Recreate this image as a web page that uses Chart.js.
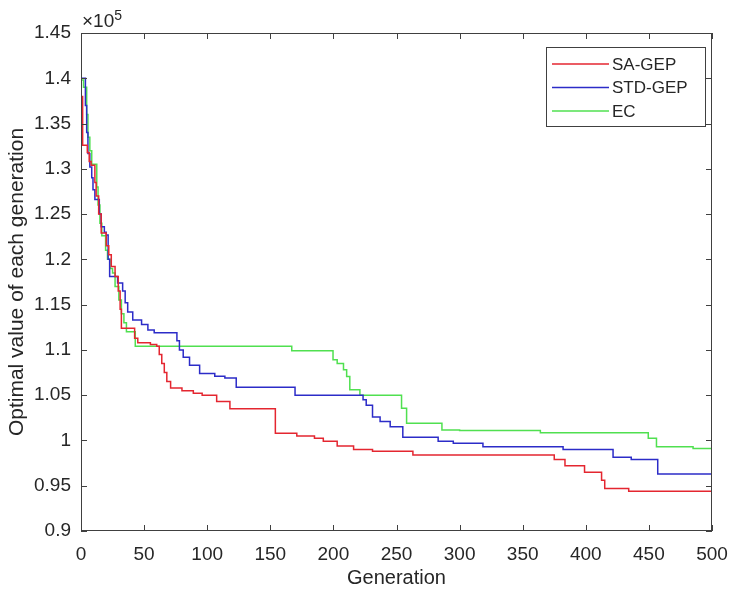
<!DOCTYPE html>
<html>
<head>
<meta charset="utf-8">
<script src="https://cdn.jsdelivr.net/npm/chart.js@4.4.0/dist/chart.umd.min.js"></script>
<style>
  html, body { margin: 0; padding: 0; background: #fff; }
  canvas { display: block; }
</style>
</head>
<body>
<canvas id="grafico" width="729" height="592"></canvas>
<script>
// data (values in units of 1e5), each point = generation where the best value changes
const seriesNames = ['SA-GEP', 'STD-GEP', 'EC'];

const saGepGen = [0, 1.3, 5, 6.5, 8, 11, 12, 14, 16, 20, 22, 24, 27, 29.5, 31, 32, 42.5, 45, 55, 60, 62, 64, 66, 68, 71, 80, 89, 96, 107.5, 118, 154, 171, 185, 192, 203, 216, 231, 263, 375, 383.5, 399, 412.5, 415, 434, 500];
const saGepVal = [1.38, 1.326, 1.318, 1.308, 1.304, 1.285, 1.27, 1.25, 1.229, 1.215, 1.205, 1.192, 1.181, 1.165, 1.145, 1.124, 1.113, 1.108, 1.106, 1.104, 1.095, 1.085, 1.075, 1.065, 1.058, 1.055, 1.052, 1.05, 1.043, 1.035, 1.008, 1.005, 1.0025, 0.999, 0.994, 0.99, 0.988, 0.984, 0.979, 0.972, 0.965, 0.956, 0.947, 0.944, 0.944];

const stdGepGen = [0, 3.5, 4.5, 5.5, 7, 8.5, 9.5, 11, 14.5, 16, 18.5, 20, 21.5, 22.7, 29, 33, 35, 37, 41, 48, 53, 58, 76, 78, 81, 86, 94, 106, 114, 123, 169.6, 223.5, 226, 231, 237, 245, 255, 283, 295, 318.5, 382, 421.6, 436, 457, 500];
const stdGepVal = [1.40, 1.37, 1.34, 1.317, 1.302, 1.29, 1.277, 1.266, 1.25, 1.236, 1.23, 1.227, 1.20, 1.181, 1.174, 1.165, 1.152, 1.142, 1.133, 1.128, 1.122, 1.119, 1.11, 1.10, 1.092, 1.083, 1.074, 1.071, 1.069, 1.0587, 1.05, 1.045, 1.039, 1.026, 1.021, 1.015, 1.0035, 0.999, 0.997, 0.993, 0.99, 0.9815, 0.979, 0.963, 0.963];

const ecGen = [0, 2, 4.5, 5.5, 7, 8.5, 12.5, 13.5, 15, 16.5, 19.5, 21, 23, 25, 27, 30, 32, 34, 36, 43, 167, 199.7, 203, 208, 210.5, 213, 221, 254, 258, 286, 300, 364, 449.5, 456, 485, 500];
const ecVal = [1.398, 1.39, 1.36, 1.335, 1.32, 1.305, 1.28, 1.26, 1.24, 1.226, 1.21, 1.2, 1.19, 1.185, 1.17, 1.155, 1.14, 1.13, 1.12, 1.104, 1.099, 1.089, 1.085, 1.078, 1.0706, 1.056, 1.05, 1.0356, 1.019, 1.0116, 1.011, 1.0086, 1.0024, 0.993, 0.991, 0.991];

const colores = ['rgb(228,38,48)', 'rgb(44,44,200)', 'rgb(80,224,80)'];
const fuente = '"Liberation Sans", Arial, sans-serif';
const ejeColor = '#404040';
const textoColor = '#262626';

function toPoints(gens, vals) {
    return gens.map((g, i) => ({ x: g, y: vals[i] }));
}

// box, inward ticks, exponent label and legend (MATLAB look)
const matlabAxes = {
    id: 'matlabAxes',
    afterDraw(chart) {
        const { ctx, chartArea, scales } = chart;
        const { left, right, top, bottom } = chartArea;
        const x = scales.x, y = scales.y;
        ctx.save();
        ctx.strokeStyle = ejeColor;
        ctx.lineWidth = 1;
        ctx.strokeRect(left + 0.5, top + 0.5, right - left - 1, bottom - top - 1);

        ctx.beginPath();
        x.ticks.forEach(t => {
            const px = Math.round(x.getPixelForValue(t.value)) + 0.5;
            ctx.moveTo(px, bottom); ctx.lineTo(px, bottom - 6);
            ctx.moveTo(px, top); ctx.lineTo(px, top + 6);
        });
        y.ticks.forEach(t => {
            const py = Math.round(y.getPixelForValue(t.value)) + 0.5;
            ctx.moveTo(left, py); ctx.lineTo(left + 6, py);
            ctx.moveTo(right, py); ctx.lineTo(right - 6, py);
        });
        ctx.stroke();

        // x10^5
        ctx.fillStyle = textoColor;
        ctx.textBaseline = 'alphabetic';
        ctx.textAlign = 'left';
        ctx.font = '19px ' + fuente;
        ctx.fillText('\u00d710', left + 1, 27);
        const w = ctx.measureText('\u00d710').width;
        ctx.font = '14px ' + fuente;
        ctx.fillText('5', left + 1 + w, 20);

        // legend
        const lx = 546, ly = 47, lw = 159, lh = 79;
        ctx.fillStyle = '#fff';
        ctx.fillRect(lx, ly, lw, lh);
        ctx.strokeStyle = ejeColor;
        ctx.strokeRect(lx + 0.5, ly + 0.5, lw, lh);
        ctx.font = '17px ' + fuente;
        ctx.textBaseline = 'middle';
        chart.data.datasets.forEach((ds, i) => {
            const ry = 64 + i * 23.5;
            ctx.strokeStyle = ds.borderColor;
            ctx.lineWidth = 1.5;
            ctx.beginPath();
            ctx.moveTo(552, ry); ctx.lineTo(609, ry);
            ctx.stroke();
            ctx.fillStyle = textoColor;
            ctx.fillText(ds.label, 612, ry + 1);
        });
        ctx.restore();
    }
};

const datasets = [
    toPoints(saGepGen, saGepVal),
    toPoints(stdGepGen, stdGepVal),
    toPoints(ecGen, ecVal)
].map((pts, i) => ({
    label: seriesNames[i],
    data: pts,
    borderColor: colores[i],
    backgroundColor: colores[i],
    borderWidth: 1.5,
    pointRadius: 0,
    stepped: 'before',
    fill: false
}));

const ctx = document.getElementById('grafico').getContext('2d');
new Chart(ctx, {
    type: 'line',
    data: { datasets: datasets },
    options: {
        responsive: false,
        animation: false,
        devicePixelRatio: 1,
        layout: { padding: { top: 33, right: 17, left: 0, bottom: 0 } },
        plugins: {
            legend: { display: false },
            tooltip: { enabled: false }
        },
        scales: {
            x: {
                type: 'linear',
                min: 0,
                max: 500,
                grid: { display: false },
                border: { display: false },
                ticks: {
                    stepSize: 50,
                    autoSkip: false,
                    maxRotation: 0,
                    padding: 4,
                    color: textoColor,
                    font: { family: fuente, size: 19 }
                },
                title: {
                    display: true,
                    text: 'Generation',
                    color: textoColor,
                    font: { family: fuente, size: 20 },
                    padding: { top: 0, bottom: 2 }
                },
                afterFit(scale) {
                    scale.height = 61;
                    scale.paddingLeft = 0;
                    scale.paddingRight = 17;
                }
            },
            y: {
                type: 'linear',
                min: 0.9,
                max: 1.45,
                grid: { display: false },
                border: { display: false },
                ticks: {
                    stepSize: 0.05,
                    autoSkip: false,
                    padding: 2,
                    color: textoColor,
                    font: { family: fuente, size: 19 },
                    callback: v => String(+v.toFixed(2))
                },
                title: {
                    display: true,
                    text: 'Optimal value of each generation',
                    color: textoColor,
                    font: { family: fuente, size: 21 },
                    padding: { top: 5, bottom: 0 }
                },
                afterFit(scale) {
                    scale.width = 81;
                    scale.paddingTop = 0;
                    scale.paddingBottom = 0;
                }
            }
        }
    },
    plugins: [matlabAxes]
});
</script>
</body>
</html>
